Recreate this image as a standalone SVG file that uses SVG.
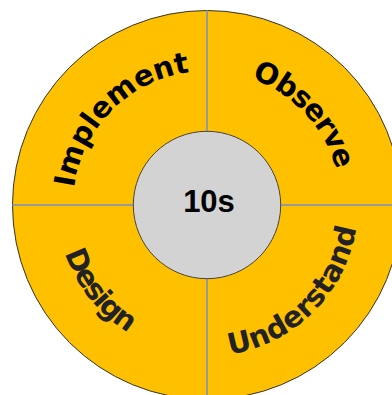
<svg xmlns="http://www.w3.org/2000/svg" xmlns:xlink="http://www.w3.org/1999/xlink" width="392" height="395" viewBox="0 0 392 395">
<style>
.ring{fill:#FFC000;stroke:#333;stroke-width:1}
.hub{fill:#D3D3D3;stroke:#444;stroke-width:1}
.div{stroke:#999;stroke-width:2;fill:none}
.lbl{font-family:"DejaVu Sans",Verdana,sans-serif;font-weight:bold;font-size:29px}
.top{fill:#000}
.bot{fill:#222}
.hubtxt{font-family:"Liberation Sans",Arial,sans-serif;font-weight:bold;font-size:31px;fill:#000}
</style>
<defs>
<path id="pImplement" d="M73,205 A134,134 0 0 1 207,71"/>
<path id="pObserve" d="M207,71 A134,134 0 0 1 341,205"/>
<path id="pDesign" d="M57,205 A150,150 0 0 0 207,355"/>
<path id="pUnderstand" d="M207,356 A151,151 0 0 0 358,205"/>
</defs>
<g id="ring"><circle class="ring" cx="207" cy="205" r="194.5"/></g>
<g id="connectors">
<line class="div" x1="207" y1="10.5" x2="207" y2="131.3"/>
<line class="div" x1="207" y1="278.7" x2="207" y2="399.5"/>
<line class="div" x1="12.5" y1="205" x2="133.3" y2="205"/>
<line class="div" x1="280.7" y1="205" x2="401.5" y2="205"/>
</g>
<g id="implement"><text class="lbl top"><textPath xlink:href="#pImplement" startOffset="50%" text-anchor="middle">Implement</textPath></text></g>
<g id="observe"><text class="lbl top" letter-spacing="-1"><textPath xlink:href="#pObserve" startOffset="52%" text-anchor="middle">Observe</textPath></text></g>
<g id="design"><text class="lbl bot" letter-spacing="-1.8"><textPath xlink:href="#pDesign" startOffset="42.4%" text-anchor="middle">Design</textPath></text></g>
<g id="understand"><text class="lbl bot"><textPath xlink:href="#pUnderstand" startOffset="50%" text-anchor="middle">Understand</textPath></text></g>
<g id="hub"><circle class="hub" cx="207" cy="205" r="73.7"/><text class="hubtxt" x="209" y="212" text-anchor="middle">10s</text></g>
</svg>
